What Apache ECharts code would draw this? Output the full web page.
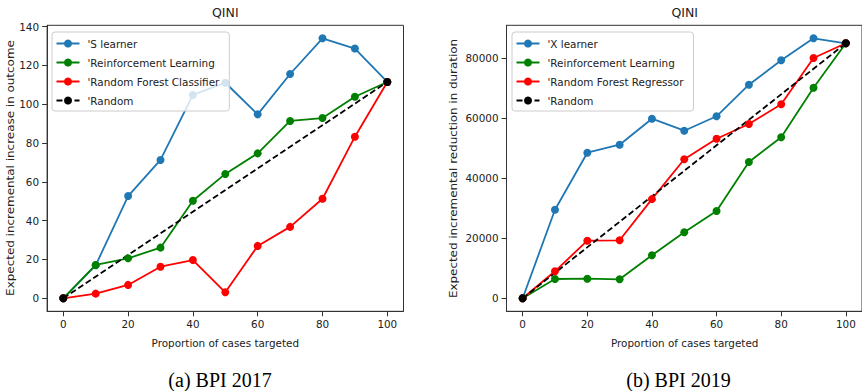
<!DOCTYPE html>
<html>
<head>
<meta charset="utf-8">
<script src="https://cdn.jsdelivr.net/npm/echarts@6/dist/echarts.min.js"></script>
<style>
  html, body { margin: 0; padding: 0; background: #fff; }
  #chart { width: 862px; height: 391px; }
</style>
</head>
<body>
<div id="chart"></div>
<script>
// Share of cases targeted (%)
const proportions = [0, 10, 20, 30, 40, 50, 60, 70, 80, 90, 100];
const randomX = [0, 100];

// BPI 2017: expected incremental increase in outcome
const sLearner2017 = [0, 17, 52.7, 71.3, 104.8, 111.1, 94.8, 115.6, 134.0, 128.7, 111.5];
const rl2017 = [0, 17.2, 20.6, 26.1, 50.3, 64.1, 74.7, 91.4, 92.9, 103.9, 111.5];
const rfc2017 = [0, 2.4, 6.9, 16.3, 19.7, 3.1, 27.0, 36.8, 51.3, 83.3, 111.5];
const random2017 = [0, 111.5];

// BPI 2019: expected incremental reduction in duration
const xLearner2019 = [0, 29480, 48450, 51110, 59770, 55770, 60570, 71080, 79200, 86520, 84860];
const rl2019 = [0, 6420, 6520, 6320, 14310, 21960, 29050, 45360, 53580, 70080, 84860];
const rfr2019 = [0, 8990, 19170, 19300, 33000, 46260, 53110, 58000, 64560, 79970, 84860];
const random2019 = [0, 84860];

const xTicks = [0, 20, 40, 60, 80, 100];
const yTicks2017 = [0, 20, 40, 60, 80, 100, 120, 140];
const yTicks2019 = [0, 20000, 40000, 60000, 80000];

const names2017 = ["'S learner", "'Reinforcement Learning", "'Random Forest Classifier", "'Random"];
const names2019 = ["'X learner", "'Reinforcement Learning", "'Random Forest Regressor", "'Random"];

const FONT = 'DejaVu Sans';
const INK = '#222';

function pairs(xs, ys) { return xs.map((x, i) => [x, ys[i]]); }

// matplotlib-style 5% margins around the data
function padded(values) {
  const lo = Math.min(...values), hi = Math.max(...values);
  const m = (hi - lo) * 0.05;
  return [lo - m, hi + m];
}

const plainNumber = v => String(v);

function xAxisFor(gridIndex) {
  return {
    type: 'value', gridIndex, min: -5, max: 105,
    axisLine: { show: true, onZero: false, lineStyle: { color: '#333', width: 1 } },
    axisTick: { show: true, length: 5, customValues: xTicks, lineStyle: { color: '#333' } },
    axisLabel: { customValues: xTicks, formatter: plainNumber, margin: 8, fontFamily: FONT, fontSize: 10.4, color: INK },
    splitLine: { show: false }
  };
}
function yAxisFor(gridIndex, range, ticks) {
  return {
    type: 'value', gridIndex, min: range[0], max: range[1],
    axisLine: { show: true, onZero: false, lineStyle: { color: '#333', width: 1 } },
    axisTick: { show: true, length: 5, customValues: ticks, lineStyle: { color: '#333' } },
    axisLabel: { customValues: ticks, formatter: plainNumber, margin: 8, fontFamily: FONT, fontSize: 10.4, color: INK },
    splitLine: { show: false }
  };
}

function lineSeries(name, data, color, idx, dashed) {
  return {
    name, type: 'line', data, xAxisIndex: idx, yAxisIndex: idx,
    symbol: 'circle', symbolSize: 8, showSymbol: true,
    itemStyle: { color },
    lineStyle: { color, width: 1.8, type: dashed ? [6, 3] : 'solid' },
    emphasis: { disabled: true },
    animation: false
  };
}

function legendFor(left, names) {
  return {
    orient: 'vertical', left, top: 32,
    data: names,
    itemWidth: 23, itemHeight: 10, itemGap: 6,
    padding: [5, 10, 4, 3.5],
    backgroundColor: 'rgba(255,255,255,0.8)',
    borderColor: '#cccccc', borderWidth: 1, borderRadius: 3,
    textStyle: { fontFamily: FONT, fontSize: 10.4, color: INK, lineHeight: 13, padding: [0, 0, 0, 3] },
    selectedMode: false
  };
}

function text(x, y, str, size, opts) {
  opts = opts || {};
  const el = {
    type: 'text', x, y,
    style: Object.assign({
      text: str, fontFamily: FONT, fontSize: size, fill: INK,
      textAlign: 'center', textVerticalAlign: 'middle'
    }, opts.style || {})
  };
  if (opts.rotation) el.rotation = opts.rotation;
  if (opts.scaleX) el.scaleX = opts.scaleX;
  return el;
}

const range2017 = padded([...sLearner2017, ...rl2017, ...rfc2017]);
const range2019 = padded([...xLearner2019, ...rl2019, ...rfr2019]);

const chart = echarts.init(document.getElementById('chart'), null, { renderer: 'svg' });
chart.setOption({
  animation: false,
  grid: [
    { left: 47.1, top: 25.3, width: 356.4, height: 286, show: true, borderColor: '#333', borderWidth: 1, backgroundColor: 'transparent' },
    { left: 506.5, top: 25.3, width: 356.4, height: 286, show: true, borderColor: '#333', borderWidth: 1, backgroundColor: 'transparent' }
  ],
  xAxis: [xAxisFor(0), xAxisFor(1)],
  yAxis: [yAxisFor(0, range2017, yTicks2017), yAxisFor(1, range2019, yTicks2019)],
  legend: [legendFor(52, names2017), legendFor(512, names2019)],
  series: [
    lineSeries(names2017[0], pairs(proportions, sLearner2017), '#1f77b4', 0),
    lineSeries(names2017[1], pairs(proportions, rl2017), '#008000', 0),
    lineSeries(names2017[2], pairs(proportions, rfc2017), '#ff0000', 0),
    lineSeries(names2017[3], pairs(randomX, random2017), '#000000', 0, true),
    lineSeries(names2019[0], pairs(proportions, xLearner2019), '#1f77b4', 1),
    lineSeries(names2019[1], pairs(proportions, rl2019), '#008000', 1),
    lineSeries(names2019[2], pairs(proportions, rfr2019), '#ff0000', 1),
    lineSeries(names2019[3], pairs(randomX, random2019), '#000000', 1, true)
  ],
  graphic: [
    text(225.3, 12.7, 'QINI', 12.5),
    text(684.7, 12.7, 'QINI', 12.5),
    text(225.3, 343, 'Proportion of cases targeted', 10.4),
    text(684.7, 343, 'Proportion of cases targeted', 10.4),
    text(10.5, 168, 'Expected incremental increase in outcome', 10.4, { rotation: Math.PI / 2, scaleX: 1.15 }),
    text(454, 168.5, 'Expected incremental reduction in duration', 10.4, { rotation: Math.PI / 2, scaleX: 1.146 }),
    text(220, 380, '(a) BPI 2017', 20, { style: { fontFamily: 'Liberation Serif', fill: '#000' } }),
    text(678.5, 380, '(b) BPI 2019', 20, { style: { fontFamily: 'Liberation Serif', fill: '#000' } })
  ]
});
</script>
</body>
</html>
